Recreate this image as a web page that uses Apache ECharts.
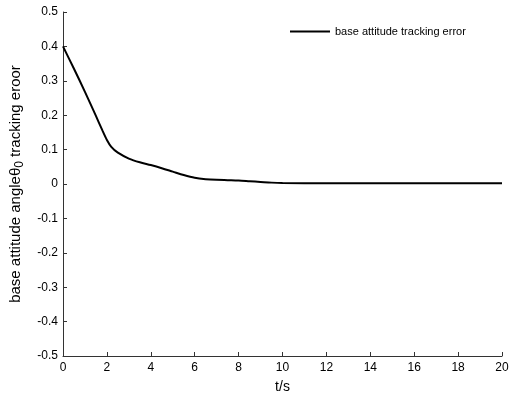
<!DOCTYPE html>
<html>
<head>
<meta charset="utf-8">
<script src="https://cdn.jsdelivr.net/npm/echarts@6/dist/echarts.min.js"></script>
<style>
  html, body { margin: 0; padding: 0; background: #fff; }
  #chart { width: 509px; height: 399px; }
</style>
</head>
<body>
<div id="chart"></div>
<script>
// time (s) and tracking error
const timeS = [0, 0.5, 1.0, 1.5, 1.8, 2.0, 2.2, 2.5, 3.0, 3.5, 4.0, 4.5, 5.0, 5.5, 6.0, 6.5, 7.0, 7.5, 8.0, 8.5, 9.0, 9.5, 10, 12, 14, 16, 18, 20];
const trackErr = [0.400, 0.335, 0.268, 0.198, 0.155, 0.128, 0.108, 0.091, 0.074, 0.063, 0.055, 0.046, 0.036, 0.026, 0.018, 0.014, 0.012, 0.011, 0.010, 0.008, 0.006, 0.004, 0.003, 0.002, 0.002, 0.002, 0.002, 0.002];
const seriesName = "base attitude tracking error";

const font = "Liberation Sans, Arial, sans-serif";
const chart = echarts.init(document.getElementById("chart"));

const pts = timeS.map((t, i) => [t, trackErr[i]]);

chart.setOption({
  animation: false,
  backgroundColor: "#fff",
  grid: { left: 63, right: 7, top: 12, bottom: 43, containLabel: false, outerBoundsMode: "none" },
  legend: {
    left: 290,
    top: 26,
    padding: 0,
    icon: "rect",
    itemWidth: 40,
    itemHeight: 2,
    itemGap: 5,
    textStyle: { fontFamily: font, fontSize: 11, color: "#000" },
    data: [seriesName]
  },
  xAxis: {
    type: "value",
    min: 0,
    max: 20,
    interval: 2,
    name: "t/s",
    nameLocation: "middle",
    nameGap: 24,
    nameTextStyle: { fontFamily: font, fontSize: 14, color: "#000" },
    axisLine: { show: true, onZero: false, lineStyle: { color: "#333", width: 1 } },
    axisTick: { show: true, inside: true, length: 4, lineStyle: { color: "#333" } },
    axisLabel: { fontFamily: font, fontSize: 12, color: "#000", margin: 6 },
    splitLine: { show: false }
  },
  yAxis: {
    type: "value",
    min: -0.5,
    max: 0.5,
    interval: 0.1,
    name: "base attitude angleθ{sub|0} tracking eroor",
    nameLocation: "middle",
    nameGap: 37,
    nameTextStyle: {
      fontFamily: font,
      fontSize: 15,
      color: "#000",
      rich: {
        sub: { fontFamily: font, fontSize: 12, color: "#000", padding: [9, 0, 0, 0] }
      }
    },
    axisLine: { show: true, onZero: false, lineStyle: { color: "#333", width: 1 } },
    axisTick: { show: true, inside: true, length: 4, lineStyle: { color: "#333" } },
    axisLabel: {
      fontFamily: font,
      fontSize: 12,
      color: "#000",
      margin: 5,
      formatter: v => String(Math.round(v * 10) / 10)
    },
    splitLine: { show: false }
  },
  series: [{
    name: seriesName,
    type: "line",
    data: pts,
    showSymbol: false,
    smooth: 0.3,
    color: "#000",
    lineStyle: { color: "#000", width: 2 }
  }]
});
</script>
</body>
</html>
